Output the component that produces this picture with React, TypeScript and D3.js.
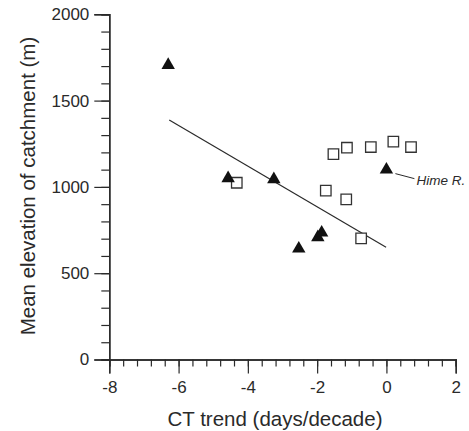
import { useEffect, useRef } from "react";
import * as d3 from "d3";

// values
const triX = [-6.3, -4.57, -3.25, -2.53, -1.98, -1.87, 0.0];
const triY = [1706, 1050, 1044, 642, 708, 735, 1100];
const sqX = [-4.32, -1.75, -1.53, -1.16, -1.14, -0.73, -0.45, 0.2, 0.71];
const sqY = [1024, 978, 1190, 928, 1227, 702, 1231, 1262, 1231];
const fitX = [-6.27, -0.01];
const fitY = [1388, 650];
const xTicks = [-8, -6, -4, -2, 0, 2];
const yTicks = [0, 500, 1000, 1500, 2000];
const labelName = "Hime R.";

const W = 469;
const H = 431;
const M = { left: 109.3, top: 14.3, right: 13.3, bottom: 71.5 };
const FONT = "'Liberation Sans', Arial, sans-serif";
const INK = "#2a2a2a";

export default function App() {
  const ref = useRef<SVGSVGElement | null>(null);

  useEffect(() => {
    const svg = d3.select(ref.current);
    svg.selectAll("*").remove();

    const x = d3.scaleLinear().domain([-8, 2]).range([M.left, W - M.right]);
    const y = d3.scaleLinear().domain([0, 2000]).range([H - M.bottom, M.top]);

    // ── axes ──────────────────────────────────────────────────────────────
    const minorX = d3.range(-8, 2.001, 0.4);
    const minorY = d3.range(0, 2001, 100);

    const gx = svg.append("g").attr("transform", `translate(0,${y(0)})`);
    gx.call(d3.axisBottom(x).tickValues(minorX).tickSize(7).tickFormat(() => ""));
    gx.append("g").call(
      d3.axisBottom(x).tickValues(xTicks).tickSize(14).tickPadding(7)
        .tickFormat(d => String(d))
    );
    gx.selectAll("path.domain").attr("stroke", INK).attr("stroke-width", 1.4);
    gx.selectAll("line").attr("stroke", INK).attr("stroke-width", 1.2);
    gx.selectAll("text")
      .attr("fill", INK).attr("font-size", 17).attr("font-family", FONT);

    const gy = svg.append("g").attr("transform", `translate(${x(-8)},0)`);
    gy.call(d3.axisLeft(y).tickValues(minorY).tickSize(8).tickFormat(() => ""));
    gy.append("g").call(
      d3.axisLeft(y).tickValues(yTicks).tickSize(15).tickPadding(5)
        .tickFormat(d => String(d))
    );
    gy.selectAll("path.domain").attr("stroke", INK).attr("stroke-width", 1.4);
    gy.selectAll("line").attr("stroke", INK).attr("stroke-width", 1.2);
    gy.selectAll("text")
      .attr("fill", INK).attr("font-size", 17).attr("font-family", FONT);

    svg.append("text")
      .attr("x", 275).attr("y", 426)
      .attr("text-anchor", "middle")
      .attr("font-size", 20.5).attr("font-family", FONT).attr("fill", INK)
      .text("CT trend (days/decade)");

    svg.append("text")
      .attr("transform", `translate(35,186) rotate(-90)`)
      .attr("text-anchor", "middle")
      .attr("font-size", 20.5).attr("font-family", FONT).attr("fill", INK)
      .text("Mean elevation of catchment (m)");

    // ── regression line ──────────────────────────────────────────────────
    const line = d3.line<number>().x(i => x(fitX[i])).y(i => y(fitY[i]));
    svg.append("path")
      .attr("d", line([0, 1]))
      .attr("fill", "none").attr("stroke", INK).attr("stroke-width", 1.2);

    // ── points ──────────────────────────────────────────────────────────
    const sq = d3.symbol().type(d3.symbolSquare).size(110);
    svg.append("g").selectAll("path")
      .data(d3.range(sqX.length))
      .join("path")
      .attr("d", sq)
      .attr("transform", i => `translate(${x(sqX[i])},${y(sqY[i])})`)
      .attr("fill", "white").attr("stroke", "#333").attr("stroke-width", 1.3);

    const tri = d3.symbol().type(d3.symbolTriangle).size(78);
    svg.append("g").selectAll("path")
      .data(d3.range(triX.length))
      .join("path")
      .attr("d", tri)
      .attr("transform", i => `translate(${x(triX[i])},${y(triY[i])})`)
      .attr("fill", "#111");

    // ── label ───────────────────────────────────────────────────────────
    const hx = x(triX[6]);
    const hy = y(triY[6]);
    svg.append("line")
      .attr("x1", hx + 9).attr("y1", hy + 4)
      .attr("x2", hx + 28).attr("y2", hy + 9)
      .attr("stroke", INK).attr("stroke-width", 1);
    svg.append("text")
      .attr("x", hx + 30).attr("y", hy + 15)
      .attr("font-size", 13.5).attr("font-style", "italic")
      .attr("font-family", FONT).attr("fill", INK)
      .text(labelName);
  }, []);

  return (
    <svg
      ref={ref}
      width={W}
      height={H}
      style={{ display: "block", position: "absolute", left: 0, top: 0, background: "white" }}
    />
  );
}
